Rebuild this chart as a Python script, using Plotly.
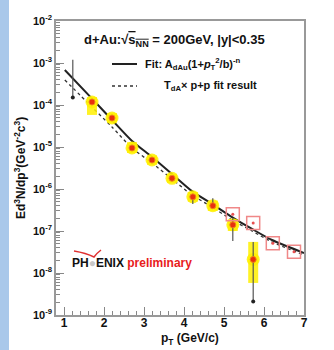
import plotly.graph_objects as go

# ---------------- data ----------------
# d+Au data points
pt_dau = [1.7, 2.2, 2.7, 3.2, 3.7, 4.22, 4.72, 5.22, 5.73]
y_dau = [1.18e-4, 4.9e-5, 9.5e-6, 4.9e-6, 1.8e-6, 6.5e-7, 4.0e-7, 1.4e-7, 2.1e-8]
sys_hi = [1.55e-4, 6.4e-5, 1.3e-5, 6.3e-6, 2.3e-6, 8.5e-7, 5.3e-7, 1.9e-7, 5.5e-8]
sys_lo = [5.8e-5, 3.8e-5, 7.2e-6, 3.8e-6, 1.4e-6, 5.0e-7, 3.0e-7, 1.0e-7, 5.8e-9]
stat_hi = [1.3e-4, 5.3e-5, 1.05e-5, 5.3e-6, 2.0e-6, 7.0e-7, 6.0e-7, 2.0e-7, 5.5e-8]
stat_lo = [1.05e-4, 4.5e-5, 8.6e-6, 4.5e-6, 1.6e-6, 4.4e-7, 3.6e-7, 5.8e-8, 2.1e-9]

# lowest-pT point (black)
pt_low = [1.22]
y_low = [1.5e-4]
y_low_hi = [1.2e-3]

# lower-limit marker (black dot at end of error bar)
pt_dot = [5.73]
y_dot = [2.1e-9]

# p+p points (open squares)
pt_pp = [5.22, 5.73, 6.22, 6.75]
y_pp = [2.5e-7, 1.55e-7, 5.1e-8, 3.2e-8]

# fit curves
pt_fit = [1.02, 1.7, 2.2, 2.7, 3.2, 3.7, 4.2, 4.7, 5.2, 5.7, 6.2, 7.0]
y_fit = [6.8e-4, 1.42e-4, 4.4e-5, 1.39e-5, 5.8e-6, 2.28e-6, 8.9e-7, 4.4e-7, 2.15e-7, 1.12e-7, 6.1e-8, 3.0e-8]
y_tab = [3.94e-4, 8.95e-5, 2.99e-5, 9.46e-6, 4.16e-6, 1.73e-6, 7.2e-7, 3.73e-7, 1.83e-7, 1.0e-7, 5.47e-8, 2.68e-8]

x_ticks = [1, 2, 3, 4, 5, 6, 7]
y_ticks = [1e-9, 1e-8, 1e-7, 1e-6, 1e-5, 1e-4, 1e-3, 1e-2]
y_tick_text = ["10<sup>-9</sup>", "10<sup>-8</sup>", "10<sup>-7</sup>", "10<sup>-6</sup>",
               "10<sup>-5</sup>", "10<sup>-4</sup>", "10<sup>-3</sup>", "10<sup>-2</sup>"]

# ---------------- layout helpers (pixel -> paper) ----------------
L, R, T, B = 56, 304, 21, 315
W, H = R - L, B - T


def px(x):
    return (x - L) / W


def py(y):
    return (B - y) / H


FONT = "Liberation Sans, Arial, sans-serif"

fig = go.Figure()

# fit curves
fig.add_trace(go.Scatter(x=pt_fit, y=y_tab, mode="lines",
                         line=dict(color="#333", width=1.3, dash="dot", shape="spline", smoothing=0.7),
                         hoverinfo="skip"))
fig.add_trace(go.Scatter(x=pt_fit, y=y_fit, mode="lines",
                         line=dict(color="#222", width=2, shape="spline", smoothing=0.7),
                         hoverinfo="skip"))

# systematic (yellow) bands
fig.add_trace(go.Scatter(
    x=pt_dau, y=y_dau, mode="markers",
    marker=dict(size=13, color="rgba(255,240,0,0.85)", line=dict(width=0)),
    error_y=dict(type="data", symmetric=False,
                 array=[h - v for h, v in zip(sys_hi, y_dau)],
                 arrayminus=[v - l for v, l in zip(y_dau, sys_lo)],
                 color="rgba(255,240,0,0.85)", thickness=10, width=0),
    hoverinfo="skip"))

# statistical errors
fig.add_trace(go.Scatter(
    x=pt_dau, y=y_dau, mode="markers", marker=dict(size=1, color="rgba(0,0,0,0)"),
    error_y=dict(type="data", symmetric=False,
                 array=[h - v for h, v in zip(stat_hi, y_dau)],
                 arrayminus=[v - l for v, l in zip(y_dau, stat_lo)],
                 color="#555", thickness=1.2, width=0),
    hoverinfo="skip"))

# low-pT black point
fig.add_trace(go.Scatter(
    x=pt_low, y=y_low, mode="markers", marker=dict(size=4, color="#222"),
    error_y=dict(type="data", symmetric=False,
                 array=[h - v for h, v in zip(y_low_hi, y_low)], arrayminus=[0],
                 color="#555", thickness=1.2, width=0),
    hoverinfo="skip"))

fig.add_trace(go.Scatter(x=pt_dot, y=y_dot, mode="markers", marker=dict(size=4, color="#222"), hoverinfo="skip"))

# p+p squares
fig.add_trace(go.Scatter(x=pt_pp, y=y_pp, mode="markers",
                         marker=dict(symbol="square-open", size=13, color="#f08888",
                                     line=dict(width=1.5, color="#f08888")),
                         hoverinfo="skip"))
fig.add_trace(go.Scatter(x=pt_pp, y=y_pp, mode="markers", marker=dict(size=3, color="#e85050"), hoverinfo="skip"))

# red d+Au markers
fig.add_trace(go.Scatter(x=pt_dau, y=y_dau, mode="markers",
                         marker=dict(size=6, color="#e8300c", line=dict(width=1, color="#f08020")),
                         hoverinfo="skip"))

annotations = [
    dict(x=px(82), y=py(41), xanchor="left", yanchor="middle",
         text="<b>d+Au:√<span style='text-decoration:overline'>s<sub>NN</sub></span> = 200GeV, |y|<0.35</b>",
         font=dict(size=13, color="#111", family=FONT)),
    dict(x=px(143), y=py(64), xanchor="left", yanchor="middle",
         text="<b>Fit: A<sub>dAu</sub>(1+<i>p</i><sub>T</sub><sup>2</sup>/b)<sup>-n</sup></b>",
         font=dict(size=11, color="#111", family=FONT)),
    dict(x=px(162), y=py(86), xanchor="left", yanchor="middle",
         text="<b>T<sub>dA</sub>× p+p fit result</b>",
         font=dict(size=11, color="#111", family=FONT)),
    dict(x=px(70), y=py(263), xanchor="left", yanchor="middle",
         text="<b>PH<span style='color:#c8c8c8'>●</span>ENIX <span style='color:#e8201c'>preliminary</span></b>",
         font=dict(size=12, color="#111", family=FONT)),
    dict(x=px(20), y=py(168), xanchor="center", yanchor="middle", textangle=-90,
         text="<b>Ed<sup>3</sup>N/dp<sup>3</sup>(GeV<sup>-2</sup>c<sup>3</sup>)</b>",
         font=dict(size=12, color="#111", family=FONT)),
    dict(x=px(190), y=py(339), xanchor="center", yanchor="middle",
         text="<b>p<sub>T</sub> (GeV/c)</b>",
         font=dict(size=12, color="#111", family=FONT)),
]
for a in annotations:
    a.update(xref="paper", yref="paper", showarrow=False)

shapes = [
    # blue strip on the left
    dict(type="rect", xref="paper", yref="paper", x0=px(0), x1=px(9), y0=py(350), y1=py(0),
         fillcolor="#a9c8ea", line=dict(width=0), layer="above"),
    # legend samples
    dict(type="line", xref="paper", yref="paper", x0=px(112), x1=px(137), y0=py(64), y1=py(64),
         line=dict(color="#222", width=2)),
    dict(type="line", xref="paper", yref="paper", x0=px(112), x1=px(137), y0=py(86), y1=py(86),
         line=dict(color="#333", width=1.3, dash="dot")),
    # PHENIX swoosh
    dict(type="path", xref="paper", yref="paper",
         path=f"M {px(74)} {py(251)} Q {px(86)} {py(253)} {px(94)} {py(257)} Q {px(97)} {py(253)} {px(101)} {py(250)}",
         line=dict(color="#e03030", width=1.5)),
]

axis_common = dict(
    showgrid=False, zeroline=False, showline=True, linecolor="#999", linewidth=1.5, mirror=True,
    ticks="inside", ticklen=8, tickcolor="#888", tickwidth=1,
)

fig.update_layout(
    width=334, height=350,
    margin=dict(l=L, r=334 - R, t=T, b=350 - B),
    paper_bgcolor="white", plot_bgcolor="white",
    showlegend=False,
    annotations=annotations, shapes=shapes,
    xaxis=dict(range=[0.8, 7], tickvals=x_ticks, ticktext=[str(v) for v in x_ticks],
               minor=dict(ticks="inside", ticklen=4, dtick=0.2, tickcolor="#888"),
               tickfont=dict(size=12, color="#111", family=FONT, weight="bold"),
               ticklabelstandoff=-4,
               **axis_common),
    yaxis=dict(type="log", range=[-9, -2], tickvals=y_ticks, ticktext=y_tick_text,
               minor=dict(ticks="inside", ticklen=4, tickcolor="#888", dtick="D1"),
               tickfont=dict(size=11, color="#111", family=FONT, weight="bold"),
               **axis_common),
)

fig.write_html("out.html", config={"displayModeBar": False},
               post_script="document.body.style.margin='0';")
